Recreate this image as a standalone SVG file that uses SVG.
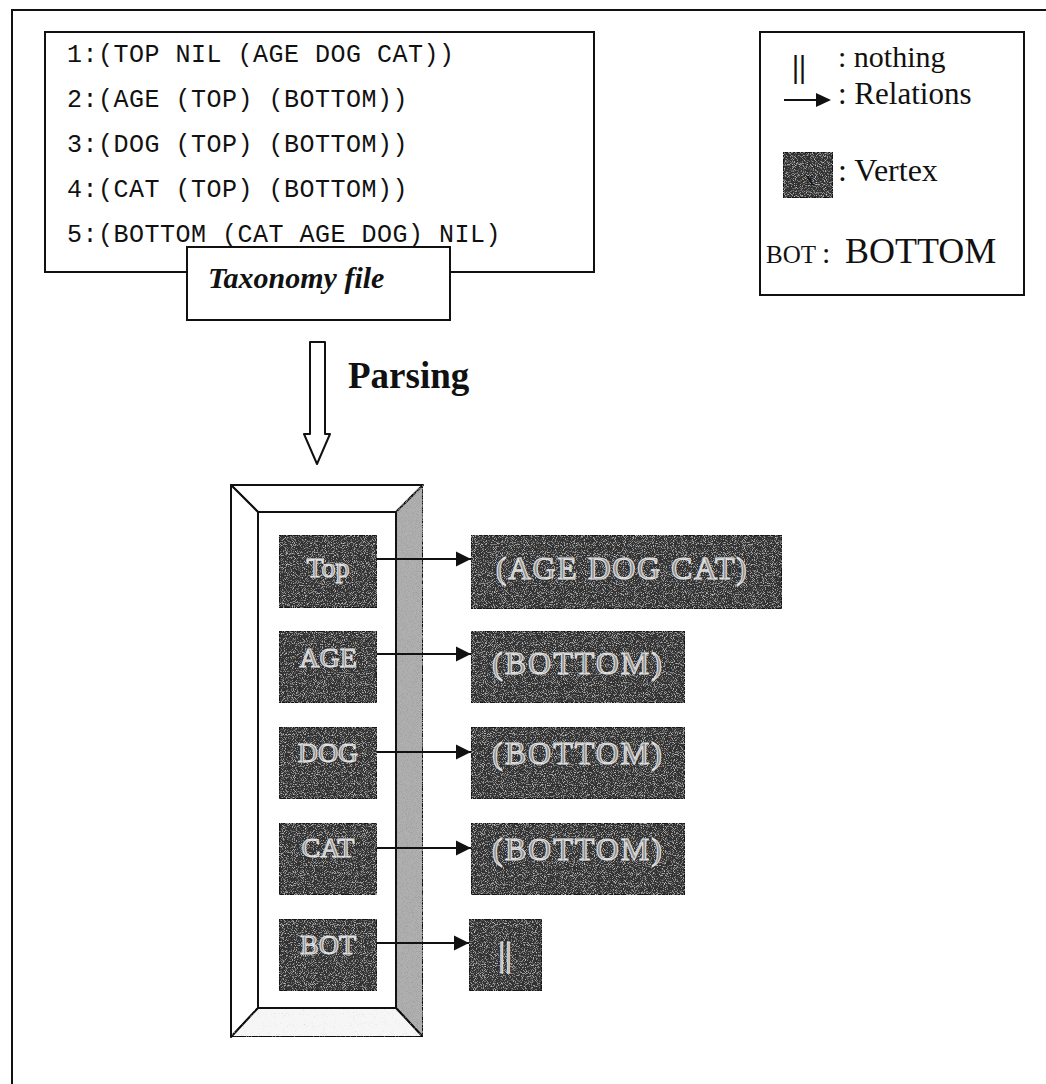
<svg xmlns="http://www.w3.org/2000/svg" width="1046" height="1084" viewBox="0 0 1046 1084">
<style>
  .ln{fill:none;stroke:#111;stroke-width:2}
  .box{fill:#fff;stroke:#111;stroke-width:2}
  .mono{font-family:"Liberation Mono","Courier New",monospace;font-size:25px;letter-spacing:0.5px;fill:#111}
  .serif{font-family:"Liberation Serif","Times New Roman",serif;fill:#111}
  .vtx{fill:#333;stroke:#111;stroke-width:1.5}
  .vlab{font-family:"Liberation Serif","Times New Roman",serif;fill:#8a8a8a;stroke:#e2e2e2;stroke-width:1.1;text-anchor:middle}
  .conn{fill:none;stroke:#111;stroke-width:2}
</style>
<defs>
  <filter id="speckD" x="0" y="0" width="1" height="1">
    <feTurbulence type="fractalNoise" baseFrequency="1.1" numOctaves="1" seed="7" result="t"/>
    <feColorMatrix in="t" type="matrix" values="0 0 0 0 0.72  0 0 0 0 0.72  0 0 0 0 0.72  3 0 0 0 -1.55" result="dots"/>
    <feComposite in="dots" in2="SourceGraphic" operator="in" result="d2"/>
    <feMerge><feMergeNode in="SourceGraphic"/><feMergeNode in="d2"/></feMerge>
  </filter>
  <filter id="speckG" x="0" y="0" width="1" height="1">
    <feTurbulence type="fractalNoise" baseFrequency="1.2" numOctaves="1" seed="3" result="t"/>
    <feColorMatrix in="t" type="matrix" values="0 0 0 0 0.35  0 0 0 0 0.35  0 0 0 0 0.35  3.5 0 0 0 -1.6" result="dots"/>
    <feComposite in="dots" in2="SourceGraphic" operator="in" result="d2"/>
    <feMerge><feMergeNode in="SourceGraphic"/><feMergeNode in="d2"/></feMerge>
  </filter>
  <filter id="speckL" x="0" y="0" width="1" height="1">
    <feTurbulence type="fractalNoise" baseFrequency="0.9" numOctaves="1" seed="11" result="t"/>
    <feColorMatrix in="t" type="matrix" values="0 0 0 0 0.55  0 0 0 0 0.55  0 0 0 0 0.55  3 0 0 0 -1.9" result="dots"/>
    <feComposite in="dots" in2="SourceGraphic" operator="in" result="d2"/>
    <feMerge><feMergeNode in="SourceGraphic"/><feMergeNode in="d2"/></feMerge>
  </filter>
  <marker id="ah" markerUnits="userSpaceOnUse" markerWidth="16" markerHeight="16" refX="15" refY="8" orient="auto">
    <path d="M0,0.5 L15,8 L0,15.5 z" fill="#111"/>
  </marker>
</defs>
<rect x="0" y="0" width="1046" height="1084" fill="#fff"/>

<g id="page-border">
  <path class="ln" d="M12,1084 L12,10 L1046,10"/>
</g>

<g id="taxonomy-file">
  <rect class="box" x="45" y="32" width="549" height="240"/>
  <text class="mono" x="67" y="62">1:(TOP NIL (AGE DOG CAT))</text>
  <text class="mono" x="67" y="107">2:(AGE (TOP) (BOTTOM))</text>
  <text class="mono" x="67" y="152">3:(DOG (TOP) (BOTTOM))</text>
  <text class="mono" x="67" y="197">4:(CAT (TOP) (BOTTOM))</text>
  <text class="mono" x="67" y="242">5:(BOTTOM (CAT AGE DOG) NIL)</text>
</g>

<g id="taxonomy-label">
  <rect class="box" x="187" y="247" width="263" height="73"/>
  <text class="serif" x="208" y="288" font-size="30" font-weight="bold" font-style="italic">Taxonomy file</text>
</g>

<g id="legend">
  <rect class="box" x="760" y="32" width="264" height="263"/>
  <text class="serif" x="792" y="77" font-size="32" font-weight="bold" fill="#000">||</text>
  <text class="serif" x="838" y="67" font-size="30">: nothing</text>
  <line x1="784" y1="100" x2="818" y2="100" stroke="#111" stroke-width="2"/>
  <path d="M816,93 L831,100 L816,107 z" fill="#111"/>
  <text class="serif" x="838" y="104" font-size="31">: Relations</text>
  <rect class="vtx" x="783" y="152" width="50" height="46" filter="url(#speckD)"/>
  <text class="serif" x="810" y="185" font-size="18" fill="#ccc" text-anchor="middle">x</text>
  <text class="serif" x="838" y="181" font-size="32">: Vertex</text>
  <text class="serif" x="766" y="263" font-size="25">BOT</text>
  <text class="serif" x="822" y="263" font-size="30">:</text>
  <text class="serif" x="845" y="263" font-size="36">BOTTOM</text>
</g>

<g id="parsing">
  <path d="M310,342 L325,342 L325,434 L330,434 L317,464 L304,434 L310,434 z" fill="#fff" stroke="#111" stroke-width="2" stroke-linejoin="round"/>
  <text class="serif" x="348" y="388" font-size="37" font-weight="bold">Parsing</text>
</g>

<g id="vertex-frame">
  <polygon points="231,485 423,485 396,512 258,512" fill="#fff" stroke="#111" stroke-width="2" stroke-linejoin="round"/>
  <polygon points="231,485 258,512 258,1008 231,1037" fill="#fff" stroke="#111" stroke-width="2" stroke-linejoin="round"/>
  <polygon points="423,485 423,1037 396,1008 396,512" fill="#b0b0b0" stroke="#111" stroke-width="2" stroke-linejoin="round" filter="url(#speckG)"/>
  <polygon points="258,1008 396,1008 423,1037 231,1037" fill="#f6f6f6" stroke="#111" stroke-width="2" stroke-linejoin="round" filter="url(#speckL)"/>
  <rect x="258" y="512" width="138" height="496" fill="#fff" stroke="#111" stroke-width="2"/>
</g>

<g id="node-top">
  <rect class="vtx" x="279" y="535" width="98" height="73" filter="url(#speckD)"/>
  <text class="vlab" x="328" y="577" font-size="28">Top</text>
</g>
<g id="node-age">
  <rect class="vtx" x="279" y="631" width="98" height="72" filter="url(#speckD)"/>
  <text class="vlab" x="328" y="667" font-size="28">AGE</text>
</g>
<g id="node-dog">
  <rect class="vtx" x="279" y="727" width="98" height="72" filter="url(#speckD)"/>
  <text class="vlab" x="328" y="762" font-size="28">DOG</text>
</g>
<g id="node-cat">
  <rect class="vtx" x="279" y="823" width="98" height="72" filter="url(#speckD)"/>
  <text class="vlab" x="328" y="857" font-size="28">CAT</text>
</g>
<g id="node-bot">
  <rect class="vtx" x="279" y="919" width="98" height="72" filter="url(#speckD)"/>
  <text class="vlab" x="328" y="954" font-size="28">BOT</text>
</g>

<g id="list-top">
  <rect class="vtx" x="471" y="535" width="311" height="74" filter="url(#speckD)"/>
  <text class="vlab" x="622" y="579" font-size="32" letter-spacing="1.5">(AGE DOG CAT)</text>
</g>
<g id="list-age">
  <rect class="vtx" x="471" y="631" width="214" height="72" filter="url(#speckD)"/>
  <text class="vlab" x="578" y="674" font-size="32" letter-spacing="2">(BOTTOM)</text>
</g>
<g id="list-dog">
  <rect class="vtx" x="471" y="727" width="214" height="72" filter="url(#speckD)"/>
  <text class="vlab" x="578" y="764" font-size="32" letter-spacing="2">(BOTTOM)</text>
</g>
<g id="list-cat">
  <rect class="vtx" x="471" y="823" width="214" height="72" filter="url(#speckD)"/>
  <text class="vlab" x="578" y="860" font-size="32" letter-spacing="2">(BOTTOM)</text>
</g>
<g id="list-bot">
  <rect class="vtx" x="469" y="919" width="73" height="72" filter="url(#speckD)"/>
  <text class="vlab" x="505" y="966" font-size="34">||</text>
</g>

<g id="connectors">
  <line class="conn" x1="377" y1="559" x2="471" y2="559" marker-end="url(#ah)"/>
  <line class="conn" x1="377" y1="654" x2="471" y2="654" marker-end="url(#ah)"/>
  <line class="conn" x1="377" y1="752" x2="471" y2="752" marker-end="url(#ah)"/>
  <line class="conn" x1="377" y1="848" x2="471" y2="848" marker-end="url(#ah)"/>
  <line class="conn" x1="377" y1="943" x2="469" y2="943" marker-end="url(#ah)"/>
</g>
</svg>
